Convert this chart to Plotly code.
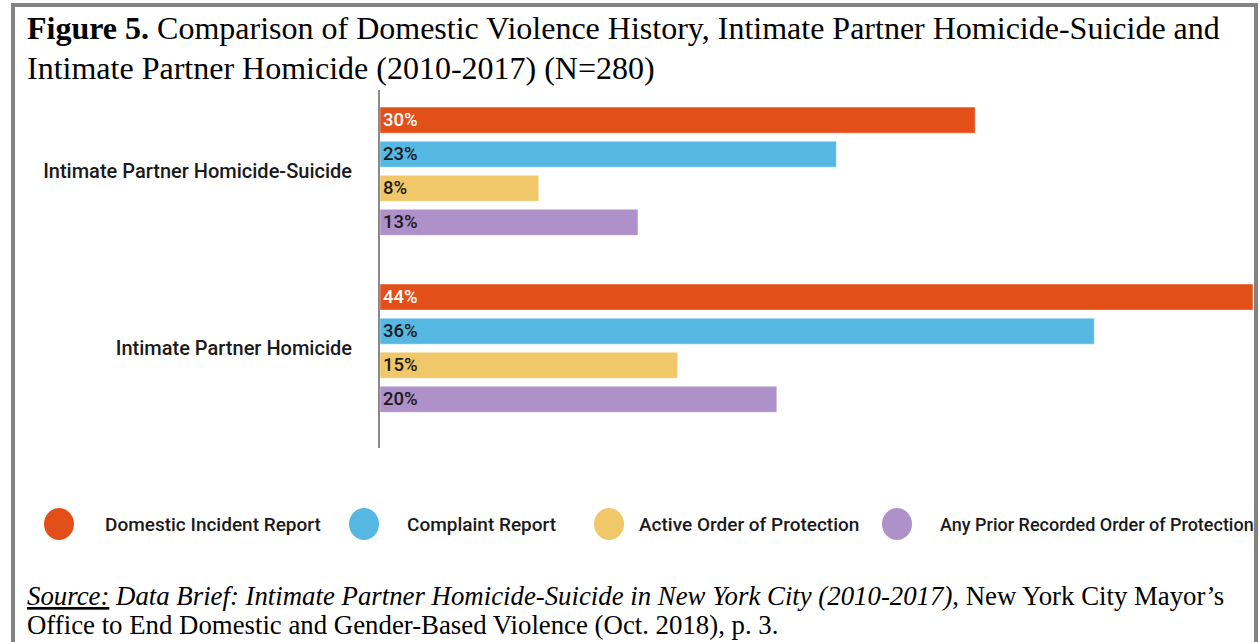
import plotly.graph_objects as go

W, H = 1259, 642

categories = ["Intimate Partner Homicide-Suicide", "Intimate Partner Homicide"]
series_names = ["Domestic Incident Report", "Complaint Report",
                "Active Order of Protection", "Any Prior Recorded Order of Protection"]
domestic_incident = [30, 44]
complaint_report = [23, 36]
active_order = [8, 15]
prior_order = [13, 20]
series_values = [domestic_incident, complaint_report, active_order, prior_order]
colors = ["#E34F19", "#56B7E2", "#F0C769", "#AE91C8"]
text_colors = ["#FFFFFF", "#1A1A1A", "#1A1A1A", "#1A1A1A"]


def px(x):
    return x / W


def py(y):
    return 1 - y / H


fig = go.Figure()
for name, vals, col, tcol in zip(series_names, series_values, colors, text_colors):
    fig.add_trace(go.Bar(
        y=categories, x=vals, name=name, orientation="h",
        marker=dict(color=col, line=dict(width=1, color="rgba(255,255,255,0.45)")),
        texttemplate="%{x}%", textposition="inside", insidetextanchor="start",
        constraintext="none",
        textfont=dict(family="Roboto", size=18.5, color=tcol, weight=500),
        showlegend=False, hoverinfo="skip",
    ))

# manual legend (large circles)
legend_cx = [59, 364, 609, 897]
legend_tx = [103, 405, 637, 938]
legend_sizes = [19, 19, 19, 18]
shapes = []
annotations = []
for name, col, cx, tx, fs in zip(series_names, colors, legend_cx, legend_tx, legend_sizes):
    shapes.append(dict(type="circle", xref="paper", yref="paper",
                       x0=px(cx - 15), x1=px(cx + 15), y0=py(524 + 16), y1=py(524 - 16),
                       fillcolor=col, line=dict(width=0)))
    annotations.append(dict(text=name, x=px(tx), y=py(524), xref="paper", yref="paper",
                            xanchor="left", yanchor="middle", showarrow=False,
                            font=dict(family="Roboto", size=fs, color="#1A1A1A", weight=500)))

# outer frame
shapes.append(dict(type="rect", xref="paper", yref="paper",
                   x0=px(13), x1=px(1256), y0=py(660), y1=py(5),
                   line=dict(width=4, color="#828282"), fillcolor="rgba(0,0,0,0)"))

title_lines = [
    "<b>Figure 5.</b> Comparison of Domestic Violence History, Intimate Partner Homicide-Suicide and",
    "Intimate Partner Homicide (2010-2017) (N=280)",
]
for line, top in zip(title_lines, [8, 48]):
    annotations.append(dict(
        text=line, x=px(25), y=py(top), xref="paper", yref="paper",
        xanchor="left", yanchor="top", align="left", showarrow=False,
        font=dict(family="Liberation Serif", size=32, color="#000000")))

source_lines = [
    "<i><u>Source:</u> Data Brief: Intimate Partner Homicide-Suicide in New York City (2010-2017)</i>, "
    "New York City Mayor\u2019s",
    "Office to End Domestic and Gender-Based Violence (Oct. 2018), p. 3.",
]
for line, top in zip(source_lines, [579, 608]):
    annotations.append(dict(
        text=line, x=px(25), y=py(top), xref="paper", yref="paper",
        xanchor="left", yanchor="top", align="left", showarrow=False,
        font=dict(family="Liberation Serif", size=26.8, color="#000000")))

fig.update_layout(
    width=W, height=H,
    margin=dict(l=0, r=0, t=0, b=0),
    paper_bgcolor="white", plot_bgcolor="white",
    barmode="group", bargap=0.23, bargroupgap=0.235,
    shapes=shapes, annotations=annotations,
    xaxis=dict(domain=[px(380), px(1254)], range=[0, 44.05], visible=False, fixedrange=True),
    yaxis=dict(domain=[py(448), py(90)], range=[1.564, -0.459], type="category",
               showline=True, linewidth=2, linecolor="#8A8A8A", ticks="",
               ticklabelstandoff=22, showgrid=False, zeroline=False, fixedrange=True,
               tickfont=dict(family="Roboto", size=20, color="#1A1A1A", weight=500)),
)

fig.write_html("out.html", config={"displayModeBar": False},
               post_script="document.body.style.margin='0';document.body.style.overflow='hidden';")
